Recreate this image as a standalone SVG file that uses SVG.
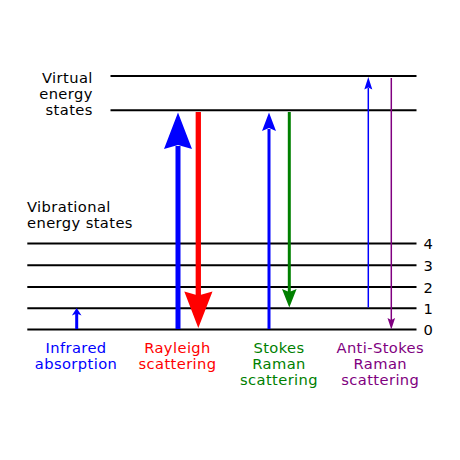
<svg xmlns="http://www.w3.org/2000/svg" width="460" height="460" viewBox="0 0 460 460">
<style>
text{font-family:"DejaVu Sans","Liberation Sans",sans-serif;font-size:14.7px;letter-spacing:0.4px}
.lvl{stroke:#000;stroke-width:2;fill:none}
.c{text-anchor:middle}
.r{text-anchor:end}
</style>
<rect width="460" height="460" fill="#fff"/>
<g id="virtual-states">
<line class="lvl" x1="110.5" y1="76" x2="416.5" y2="76"/>
<line class="lvl" x1="110.5" y1="110.3" x2="416.5" y2="110.3"/>
<text class="r" x="92.8" y="83.3">Virtual</text>
<text class="r" x="92.8" y="99.3">energy</text>
<text class="r" x="92.8" y="115.3">states</text>
</g>
<g id="vibrational-states">
<line class="lvl" x1="27.3" y1="243.5" x2="416.5" y2="243.5"/>
<line class="lvl" x1="27.3" y1="265.3" x2="416.5" y2="265.3"/>
<line class="lvl" x1="27.3" y1="287" x2="416.5" y2="287"/>
<line class="lvl" x1="27.3" y1="308.3" x2="416.5" y2="308.3"/>
<line class="lvl" x1="27.3" y1="329.5" x2="416.5" y2="329.5"/>
<text x="27" y="211.7">Vibrational</text>
<text x="27" y="227.7">energy states</text>
<text x="423.5" y="249.3">4</text>
<text x="423.5" y="271">3</text>
<text x="423.5" y="292.5">2</text>
<text x="423.5" y="313.5">1</text>
<text x="423.5" y="335">0</text>
</g>
<g id="connectors">
<line x1="76.7" y1="329" x2="76.7" y2="313" stroke="#00f" stroke-width="3"/>
<path d="M76.7,308 L81.5,315.5 L76.7,313.5 L71.9,315.5 Z" fill="#00f"/>
<line x1="178" y1="329" x2="178" y2="146" stroke="#00f" stroke-width="5"/>
<path d="M178,112.5 L192,149 L178,145 L164,149 Z" fill="#00f"/>
<line x1="198.3" y1="112" x2="198.3" y2="296" stroke="#f00" stroke-width="5.3"/>
<path d="M198.3,328 L212.5,291.5 L198.3,295.5 L184.3,291.5 Z" fill="#f00"/>
<line x1="269" y1="329" x2="269" y2="129" stroke="#00f" stroke-width="3"/>
<path d="M269,112.5 L276,131 L269,128 L262,131 Z" fill="#00f"/>
<line x1="289.3" y1="112" x2="289.3" y2="292" stroke="#008000" stroke-width="3"/>
<path d="M289.3,307.5 L296.6,289 L289.3,292 L282,289 Z" fill="#008000"/>
<line x1="368.3" y1="307.5" x2="368.3" y2="88" stroke="#00f" stroke-width="1.5"/>
<path d="M368.3,77 L372.3,89.5 L368.3,87.5 L364.3,89.5 Z" fill="#00f"/>
<line x1="391.3" y1="78" x2="391.3" y2="320" stroke="#800080" stroke-width="1.5"/>
<path d="M391.3,329.5 L395.1,318 L391.3,320 L387.5,318 Z" fill="#800080"/>
</g>
<g id="infrared" fill="#00f">
<text class="c" x="76" y="353.3">Infrared</text>
<text class="c" x="76" y="369.3">absorption</text>
</g>
<g id="rayleigh" fill="#f00">
<text class="c" x="177.5" y="353.3">Rayleigh</text>
<text class="c" x="177.5" y="369.3">scattering</text>
</g>
<g id="stokes" fill="#008000">
<text class="c" x="279" y="353.3">Stokes</text>
<text class="c" x="279" y="369.3">Raman</text>
<text class="c" x="279" y="385.3">scattering</text>
</g>
<g id="anti-stokes" fill="#800080">
<text class="c" x="380.3" y="353.3">Anti-Stokes</text>
<text class="c" x="380.3" y="369.3">Raman</text>
<text class="c" x="380.3" y="385.3">scattering</text>
</g>
</svg>
